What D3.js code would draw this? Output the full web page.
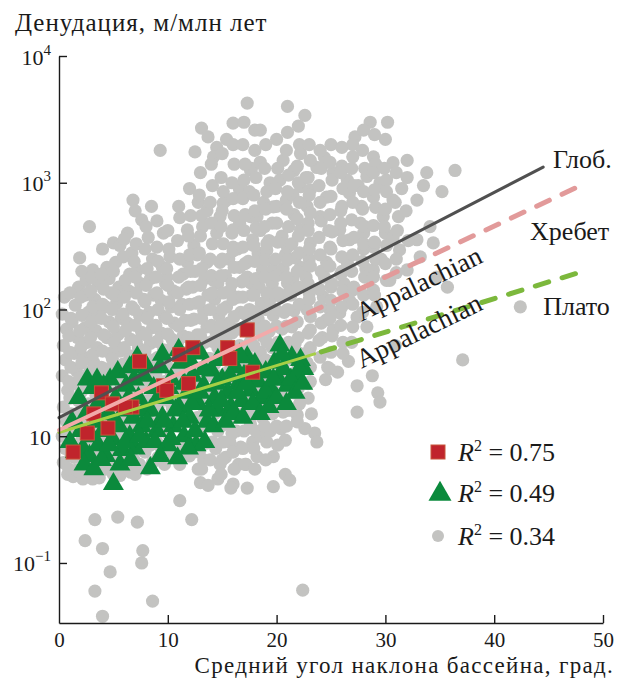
<!DOCTYPE html>
<html lang="ru">
<head>
    <meta charset="UTF-8">
    <title>Денудация и уклон бассейна</title>
    <script src="https://d3js.org/d3.v7.min.js"></script>
    <style>
        body { margin: 0; background: #fff; }
        .axis path, .axis line { stroke: #1a1a1a; stroke-width: 1.4; }
    </style>
</head>
<body>
<div id="chart"></div>
<script>
// global dataset: [mean basin slope (deg), denudation (m/Myr)]
const globalPoints = [
    [0.5,125],[0.3,92],[0.7,70],[0.4,52],[0.6,40],[0.3,30],[0.8,23],[0.4,17],[0.7,13],[0.3,10],[0.6,8],[0.4,6.2],[0.8,5],
    [1.5,108],[1.2,80],[1.7,60],[1.4,45],[1.6,33],[1.3,26],[1.8,19],[1.5,14],[1.2,11],[1.7,8.5],[1.4,6.8],[1.6,5.4],[1.9,255],[2.1,200],[1.8,150],[1.3,4.8],
    [2.8,450],[2.5,170],[2.4,130],[2.7,95],[2.4,72],[2.6,55],[2.3,42],[2.8,32],[2.5,24],[2.7,18],[2.3,13.5],[2.6,9.5],[2.4,7.2],[2.8,5.8],[2.2,4.6],[2.4,1.5],
    [3.1,205],[3.6,160],[3.3,120],[3.7,92],[3.4,68],[3.5,50],[3.2,38],[3.7,29],[3.4,21],[3.6,15],[3.3,11],[3.6,8],[3.3,6],[3.7,4.7],[3.3,2.2],[3.3,0.6],[4.0,1.3],[4.0,0.38],[3.1,4.6],
    [4.4,215],[4.6,175],[4.8,135],[4.3,105],[4.6,80],[4.4,60],[4.7,45],[4.5,34],[4.3,25],[4.7,19],[4.4,14],[4.6,10],[4.5,7.5],[4.3,5.5],[4.7,0.85],
    [5.0,335],[5.2,235],[5.6,320],[5.5,150],[5.3,112],[5.7,85],[5.4,63],[5.6,47],[5.3,35],[5.7,26],[5.4,20],[5.6,14],[5.3,10.5],[5.7,7.8],[5.4,5.8],[5.4,2.3],[5.6,4.9],
    [6.8,730],[6.3,400],[6.7,280],[6.5,190],[6.4,140],[6.7,105],[6.3,78],[6.6,58],[6.5,43],[6.3,32],[6.7,24],[6.5,18],[6.4,13],[6.7,9.5],[6.4,7],[6.6,5.2],
    [7.6,510],[7.2,205],[7.5,160],[7.8,120],[7.4,90],[7.6,66],[7.3,50],[7.7,37],[7.5,27],[7.3,20],[7.6,15],[7.4,11],[7.7,8],[7.4,6],[7.2,2.1],[7.6,1.0],[7.7,1.25],
    [8.5,650],[8.2,370],[8.6,250],[8.4,175],[8.7,130],[8.3,95],[8.6,72],[8.4,54],[8.7,40],[8.3,30],[8.6,22],[8.4,16],[8.7,12],[8.4,8.5],[8.6,6.2],[8.6,0.5],
    [9.3,1800],[9.6,400],[9.0,310],[9.5,215],[9.8,160],[9.4,118],[9.7,88],[9.4,65],[9.6,48],[9.3,36],[9.7,27],[9.5,20],[9.3,15],[9.6,11],[9.4,8],[9.7,6],
    [10.2,260],[9.9,180],[10.5,140],[10.3,105],[10.6,78],[10.4,58],[10.7,43],[10.3,32],[10.6,24],[10.4,17],[10.7,12.5],[10.3,9],[10.6,6.8],[11.1,3.1],
    [11.1,530],[11.8,425],[11.8,235],[11.4,190],[11.7,145],[11.3,110],[11.6,82],[11.4,62],[11.7,46],[11.3,34],[11.6,25],[11.4,18],[11.7,13],[11.4,9.5],[11.7,7],[12.2,2.2],
    [12.5,1750],[13.1,2700],[12.8,700],[12.4,320],[12.7,270],[12.5,200],[12.3,150],[12.6,112],[12.4,84],[12.7,63],[12.5,47],[12.3,35],[12.6,26],[12.4,19],[12.7,14],[12.5,10],[12.3,7.5],[12.8,5.5],
    [13.7,2300],[13.6,600],[13.2,450],[13.6,235],[13.4,175],[13.7,130],[13.3,98],[13.6,73],[13.4,55],[13.7,41],[13.3,30],[13.6,22],[13.4,16],[13.7,12],[13.5,8.8],[13.3,6.5],[13.0,4.3],[13.7,4.1],
    [14.5,1900],[14.2,1600],[14.8,540],[14.5,400],[14.2,170],[14.8,235],[14.6,162],[14.3,120],[14.7,90],[14.4,67],[14.6,50],[14.3,37],[14.7,28],[14.5,20],[14.3,15],[14.6,11],[14.4,8],[14.8,6],[14.6,4.6],
    [15.4,2200],[16.0,2950],[15.4,730],[15.1,690],[16.0,425],[16.0,310],[15.6,250],[15.3,185],[15.7,140],[15.4,105],[15.6,78],[15.3,58],[15.7,43],[15.5,32],[15.3,24],[15.6,17],[15.4,12.5],[15.7,9],[15.3,6.8],[16.0,4.2],
    [17.3,4250],[16.6,910],[16.6,880],[16.6,480],[16.6,215],[16.4,300],[16.8,165],[16.5,125],[16.7,95],[16.4,70],[16.6,52],[16.8,39],[16.4,29],[16.7,21],[16.5,15],[16.3,11],[16.7,8.2],[16.5,6],[15.8,3.9],
    [18.0,2600],[17.7,1300],[17.6,1260],[17.5,850],[17.8,355],[17.6,540],[17.3,180],[17.6,162],[17.4,240],[17.7,130],[17.5,100],[17.3,75],[17.6,56],[17.4,42],[17.7,31],[17.5,23],[17.3,17],[17.6,12.5],[17.8,9],[17.2,6],[17.3,3.9],
    [18.5,2600],[18.5,1450],[18.2,540],[18.8,700],[18.5,420],[18.3,280],[18.7,205],[18.4,150],[18.6,112],[18.3,84],[18.7,62],[18.5,46],[18.3,34],[18.6,25],[18.4,19],[18.7,14],[18.5,10],[18.2,6.9],
    [19.7,645],[19.1,295],[19.7,205],[19.4,1000],[19.6,480],[19.3,350],[19.6,160],[19.4,120],[19.7,90],[19.3,67],[19.6,50],[19.4,37],[19.7,27],[19.3,20],[19.6,15],[19.4,11],[19.7,6.9],[19.7,4.0],
    [21.0,4000],[20.6,1500],[20.3,1050],[20.9,730],[20.0,480],[20.5,380],[20.8,270],[21.0,310],[21.0,162],[20.6,210],[20.4,125],[20.7,95],[20.5,70],[20.3,52],[20.7,38],[20.5,28],[20.3,21],[20.6,15.5],[20.4,11.5],[20.8,9.3],[20.8,5],
    [22.6,3400],[22.2,1700],[21.6,1250],[22.2,930],[21.5,800],[22.2,425],[21.6,560],[21.4,330],[22.2,215],[21.7,255],[21.5,175],[21.3,130],[21.6,98],[21.4,73],[21.7,54],[21.5,40],[21.3,30],[21.9,14.7],[21.6,22],[21.4,16],[22.4,0.61],[21.2,4.5],
    [23.1,880],[23.7,1320],[23.1,335],[22.8,650],[23.0,250],[22.7,180],[23.0,135],[22.8,100],[23.1,69],[23.1,50],[22.8,38],[23.1,27],[23.5,10.6],[23.7,9],[22.9,20],[23.2,15],[22.7,1100],[22.9,480],[22.6,11.5],
    [24.4,1580],[25.2,1200],[24.6,770],[24.0,540],[24.9,310],[24.6,235],[24.3,125],[24.6,83],[24.7,35],[24.4,180],[24.8,420],[24.2,60],[25.0,150],[25.2,69],[24.5,28],[24.9,100],
    [26.5,1050],[25.8,425],[26.7,830],[26.7,355],[26.5,235],[25.8,94],[26.6,39],[25.6,32],[26.7,118],[26.1,45],[26.0,200],[25.9,600],[26.2,160],[27.0,1600],[27.2,2300],[26.0,1350],
    [28.3,1120],[27.7,480],[27.4,87],[27.4,25],[27.4,15.5],[27.0,142],[27.0,73],[28.0,300],[27.8,650],[28.2,210],[27.5,950],[28.0,400],
    [28.9,770],[28.9,310],[28.9,205],[28.9,142],[28.6,3000],[29.8,540],[29.2,105],[28.8,30],[29.3,22],[29.5,18.6],[28.3,73],[28.9,1600],[29.5,1000],[30.2,3000],[30.1,1050],[30.1,170],[30.0,400],[29.6,250],
    [30.7,1440],[30.7,730],[30.7,370],[31.0,195],[31.2,540],[32.0,1500],[31.3,295],[32.0,205],[30.4,170],[31.5,900],[30.9,52],
    [33.8,1200],[32.9,730],[32.9,355],[33.2,260],[34.1,450],[34.4,335],[35.2,850],[34.7,180],[35.7,150],[36.4,1250],[37.1,40],[33.5,950],[42.4,105],
    // points packed between the columns above
    [1.0,135],[1.1,85],[0.9,62],[1.0,46],[1.1,35],[0.9,27],[1.0,20],[1.1,15],[0.9,11.5],[1.0,9],[1.1,7],[0.9,5.5],
    [2.0,125],[2.1,90],[1.9,68],[2.0,50],[2.1,38],[1.9,29],[2.0,22],[2.1,16],[1.9,12],[2.0,9],[2.1,7],[1.9,5.2],
    [3.0,180],[2.9,140],[3.1,105],[3.0,80],[2.9,60],[3.1,44],[3.0,33],[2.9,25],[3.1,18],[3.0,13],[2.9,9.5],[3.1,7],[3.0,5.3],
    [4.0,300],[3.9,190],[4.1,145],[4.0,110],[3.9,85],[4.1,63],[4.0,47],[3.9,35],[4.1,26],[4.0,19],[3.9,14],[4.1,10],[4.0,7.5],[3.9,5.5],
    [5.0,200],[5.1,130],[4.9,100],[5.0,73],[5.1,55],[4.9,41],[5.0,30],[5.1,22],[4.9,16],[5.0,12],[5.1,9],[4.9,6.5],[5.0,5],
    [6.0,360],[5.9,260],[6.1,170],[6.0,125],[5.9,92],[6.1,68],[6.0,50],[5.9,37],[6.1,28],[6.0,21],[5.9,15],[6.1,11],[6.0,8],[5.9,6],
    [7.0,600],[7.1,330],[6.9,240],[7.0,180],[7.1,135],[6.9,100],[7.0,75],[7.1,56],[6.9,42],[7.0,31],[7.1,23],[6.9,17],[7.0,12.5],[7.1,9],[6.9,6.5],[7.0,5],
    [8.0,450],[7.9,300],[8.1,210],[8.0,155],[7.9,115],[8.1,85],[8.0,63],[7.9,47],[8.1,35],[8.0,26],[7.9,19],[8.1,14],[8.0,10],[7.9,7.5],[8.1,5.5],
    [9.0,500],[9.1,240],[8.9,180],[9.0,135],[9.1,100],[8.9,75],[9.0,56],[9.1,42],[8.9,31],[9.0,23],[9.1,17],[8.9,12.5],[9.0,9],[9.1,6.8],
    [10.0,420],[10.1,300],[9.9,210],[10.0,155],[10.1,115],[9.9,85],[10.0,64],[10.1,48],[9.9,36],[10.0,26],[10.1,19],[9.9,14],[10.0,10.5],[10.1,7.8],
    [11.0,650],[10.9,350],[11.1,250],[11.0,180],[10.9,135],[11.1,100],[11.0,74],[10.9,55],[11.1,41],[11.0,30],[10.9,22],[11.1,16],[11.0,12],[10.9,8.5],[11.1,6],
    [12.0,900],[12.1,550],[11.9,380],[12.0,270],[12.1,200],[11.9,150],[12.0,110],[12.1,82],[11.9,60],[12.0,45],[12.1,33],[11.9,24],[12.0,18],[12.1,13],[11.9,9.5],[12.0,7],
    [13.0,1200],[12.9,800],[13.1,550],[13.0,380],[12.9,280],[13.1,210],[13.0,155],[12.9,115],[13.1,85],[13.0,63],[12.9,47],[13.1,35],[13.0,26],[12.9,19],[13.1,14],[13.0,10.5],[12.9,7.5],[13.1,5.5],
    [14.0,1400],[14.1,950],[13.9,700],[14.0,480],[14.1,330],[13.9,250],[14.0,185],[14.1,135],[13.9,100],[14.0,75],[14.1,56],[13.9,41],[14.0,30],[14.1,22],[13.9,16],[14.0,12],[14.1,9],[13.9,6.5],
    [15.0,1700],[14.9,1100],[15.1,850],[15.0,600],[14.9,450],[15.1,330],[15.0,250],[14.9,185],[15.1,135],[15.0,100],[14.9,75],[15.1,56],[15.0,41],[14.9,30],[15.1,22],[15.0,16],[14.9,12],[15.1,9],[15.0,6.5],[14.9,5],
    [16.0,2000],[16.1,1400],[15.9,1000],[16.0,750],[16.1,550],[15.9,400],[16.0,290],[16.1,215],[15.9,160],[16.0,120],[16.1,88],[15.9,65],[16.0,48],[16.1,36],[15.9,27],[16.0,20],[16.1,14.5],[15.9,10.5],[16.0,7.5],[16.1,5.5],
    [17.0,3000],[16.9,2000],[17.1,1400],[17.0,1050],[16.9,750],[17.1,560],[17.0,420],[16.9,310],[17.1,230],[17.0,170],[16.9,125],[17.1,92],[17.0,68],[16.9,50],[17.1,37],[17.0,27],[16.9,20],[17.1,15],[17.0,11],[16.9,8],[17.1,6],
    [18.0,1800],[18.1,1100],[17.9,800],[18.0,600],[18.1,440],[17.9,320],[18.0,240],[18.1,175],[17.9,130],[18.0,96],[18.1,70],[17.9,52],[18.0,38],[18.1,28],[17.9,21],[18.0,15],[18.1,11],[17.9,8],[18.0,5.5],
    [19.0,2000],[18.9,1300],[19.1,850],[19.0,620],[18.9,450],[19.1,330],[19.0,245],[18.9,180],[19.1,135],[19.0,100],[18.9,74],[19.1,55],[19.0,40],[18.9,30],[19.1,22],[19.0,16],[18.9,12],[19.1,9],[19.0,6.5],
    [20.0,2200],[20.1,1300],[19.9,900],[20.0,650],[20.1,340],[19.9,250],[20.0,185],[20.1,135],[19.9,100],[20.0,74],[20.1,55],[19.9,40],[20.0,30],[20.1,22],[19.9,16],[20.0,12],[20.1,8.5],
    [21.0,2500],[20.9,1800],[21.1,1150],[21.0,850],[20.9,620],[21.1,450],[21.0,245],[20.9,180],[21.1,135],[21.0,100],[20.9,74],[21.1,55],[21.0,41],[20.9,30],[21.1,22],[21.0,16],[20.9,12],
    [22.0,2800],[22.1,2000],[21.9,1350],[22.0,1000],[22.1,700],[21.9,520],[22.0,380],[22.1,280],[21.9,200],[22.0,150],[22.1,110],[21.9,80],[22.0,60],[22.1,45],[21.9,33],[22.0,24],[22.1,18],[21.9,13],
    [23.0,2000],[23.1,1500],[22.9,1100],[23.0,800],[23.1,580],[22.9,420],[23.0,300],[23.1,220],[22.9,160],[23.0,120],[23.1,88],[22.9,65],[23.0,48],[23.1,35],[22.9,26],
    [24.0,1800],[24.1,1300],[23.9,950],[24.0,700],[24.1,500],[23.9,370],[24.0,270],[24.1,200],[23.9,145],[24.0,105],[24.1,78],[23.9,57],[24.0,42],
    [25.0,2000],[24.9,1450],[25.1,1050],[25.0,780],[24.9,560],[25.1,410],[25.0,300],[24.9,220],[25.1,160],[25.0,118],[24.9,85],[25.1,62],[25.0,46],[24.9,34],
    [26.0,1900],[25.9,1200],[26.1,900],[26.0,650],[25.9,480],[26.1,350],[26.0,260],[25.9,190],[26.1,140],[26.0,105],[25.9,75],[26.1,55],
    [27.0,2000],[26.9,1300],[27.1,950],[27.0,700],[26.9,510],[27.1,370],[27.0,270],[26.9,200],[27.1,150],[27.0,110],[26.9,55],
    [28.0,2600],[27.9,1800],[28.1,1300],[28.0,850],[27.9,620],[28.1,450],[28.0,330],[27.9,240],[28.1,180],[28.0,130],[27.9,95],
    [29.0,2400],[29.1,1400],[28.9,1200],[29.0,880],[29.1,640],[28.9,460],[29.0,340],[29.1,250],[28.9,180],[29.0,130],
    [30.0,2200],[29.9,1300],[30.1,850],[30.0,620],[29.9,450],[30.1,320],[30.0,230],
    [31.0,1200],[30.9,700],[31.1,420],[31.0,250],
    [32.0,1100],[31.9,600],[32.1,350]
];

// Appalachian plateau basins
const plateauPoints = [
    [1.0,9],[1.5,7.5],[2.0,11],[2.2,8],[2.5,15],[2.8,7],[3.0,10],[3.1,24],[3.4,13],[3.6,8.5],[3.8,18],[4.0,11],[4.3,7],[4.5,15],
    [4.7,28],[4.9,9.5],[5.0,4.2],[5.2,20],[5.5,12],[5.8,7.8],[6.0,16],[6.2,25],[6.5,10],[6.8,14],[7.0,8],[7.2,42],[7.3,20],
    [7.6,12],[7.8,30],[8.0,9],[8.4,5.6],[8.4,16],[8.7,24],[9.0,11],[9.3,35],[9.5,14],[9.8,20],[10.0,8.5],[10.3,28],[10.5,12],
    [10.9,6.7],[11.0,17],[11.2,38],[11.5,10],[11.8,22],[12.0,14],[12.3,30],[12.6,8.5],[12.8,18],[13.0,45],[13.3,25],[13.6,13],
    [14.0,33],[14.3,20],[14.6,16],[15.0,28],[15.2,40],[15.5,22],[15.8,17],[16.2,35],[16.5,26],[16.8,19],[17.0,30],[17.3,42],
    [17.6,23],[18.0,37],[18.3,27],[18.6,20],[19.0,32],[19.4,24],[19.8,38],[20.3,52],[20.2,28],[20.6,34],[21.0,25],[21.4,42],
    [21.8,30],[22.2,40],[22.5,34],
    [1.2,13],[1.8,20],[2.3,6],[2.6,28],[3.2,5.5],[3.4,17],[3.9,6.5],[4.1,25],[4.6,8.5],[5.0,13],[5.4,32],[5.6,6],[6.1,9],
    [6.4,20],[6.6,6.5],[6.9,28],[7.4,10],[7.8,16],[8.1,13],[8.8,9],[9.1,20],[9.3,7],[9.7,13],[10.1,24],[10.3,9.5],[10.7,16],
    [11.4,13],[11.5,26],[11.9,8],[12.2,18],[12.5,11],[13.0,22],[13.4,9],[13.8,16],[14.2,12],[14.5,26],[14.9,19],[15.3,13],
    [15.7,30],[16.0,15],[16.4,22],[16.9,14],[17.2,26],[17.8,18],[18.2,32],[18.5,15],[19.0,22],[19.3,17],[19.7,28],[20.0,20],
    [20.5,44],[20.9,18],[21.3,28],[21.7,22],[22.1,34],[22.4,26],[13.3,34],[11.0,48],[12.0,40],[14.6,40],[16.6,44],[9.5,44],
    [8.0,36],[6.5,35],[3.5,28]
];

// Appalachian ridge basins
const ridgePoints = [
    [1.3,7.5],[2.6,10.6],[4.5,11.6],[3.9,22],[3.2,15],[4.9,18],[6.7,17],[7.4,39],[9.6,25],
    [11.1,44],[12.3,50],[11.9,26],[15.5,50],[15.7,41],[17.3,69],[17.8,32],[6.1,17],[9.9,23]
];

// regression lines (start, end, where the solid part ends)
const fitNames = ["Глоб.", "Хребет", "Плато"];
const fitStart = [[0, 14], [0, 11.2], [0, 10.7]];
const fitEnd = [[44.5, 1330], [48, 955], [48.5, 204]];
const fitSolidTo = [44.5, 20, 23.5];
const fitLabelAt = [[45.4, 1300], [43.3, 353], [44.5, 91]];
const appalachianAt = [[27.8, 80], [27.8, 34]];

// axis ticks
const xTicks = [0, 10, 20, 30, 40, 50];
const yTicks = [1, 10, 100, 1000, 10000];
const yTickExp = ["\u22121", "", "2", "3", "4"];

const legendR2 = ["0.75", "0.49", "0.34"];

const font = "'Liberation Serif', 'Times New Roman', 'DejaVu Serif', serif";

const margin = {top: 56, right: 15, bottom: 55, left: 59},
    width = 618 - margin.left - margin.right,
    height = 678 - margin.top - margin.bottom;

const svg = d3.select("#chart")
    .append("svg")
    .attr("width", 618)
    .attr("height", 678)
    .style("font-family", font);

const g = svg.append("g")
    .attr("transform", "translate(" + margin.left + "," + margin.top + ")");

const x = d3.scaleLinear().domain([0, 50]).range([0, width]);
const y = d3.scaleLog().domain([0.336, 10000]).range([height, 0]);

// clip the marks to the plot area (points may sit a little past the axis)
svg.append("clipPath").attr("id", "plot")
    .append("rect").attr("x", -8).attr("y", -8).attr("width", width + 16).attr("height", height + 8);

const marks = g.append("g").attr("clip-path", "url(#plot)");

// gray global points
marks.append("g").selectAll("circle")
    .data(globalPoints)
    .join("circle")
    .attr("cx", d => x(d[0]))
    .attr("cy", d => y(d[1]))
    .attr("r", 6.6)
    .attr("fill", "#c3c3c1");

// green triangles
const tri = d3.symbol().type(d3.symbolTriangle).size(190);
marks.append("g").selectAll("path")
    .data(plateauPoints)
    .join("path")
    .attr("d", tri)
    .attr("transform", d => "translate(" + x(d[0]) + "," + y(d[1]) + ")")
    .attr("fill", "#0b8a3c");

// red squares
marks.append("g").selectAll("rect")
    .data(ridgePoints)
    .join("rect")
    .attr("x", d => x(d[0]) - 7)
    .attr("y", d => y(d[1]) - 7)
    .attr("width", 14)
    .attr("height", 14)
    .attr("fill", "#c0242c")
    .attr("stroke", "#c8553a")
    .attr("stroke-width", 1);

// value on a fitted line (straight in log space)
function fitValue(i, deg) {
    const t = (deg - fitStart[i][0]) / (fitEnd[i][0] - fitStart[i][0]);
    const l0 = Math.log10(fitStart[i][1]), l1 = Math.log10(fitEnd[i][1]);
    return Math.pow(10, l0 + t * (l1 - l0));
}

const solidColor = ["#505050", "#f2aaaa", "#a6cf45"];
const dashColor = ["#505050", "#e29a9a", "#7cb83c"];
const solidWidth = [3, 4, 3];

// draw order: plateau, ridge, global
[2, 1, 0].forEach(function(i) {
    const mid = fitSolidTo[i];
    marks.append("line")
        .attr("x1", x(fitStart[i][0])).attr("y1", y(fitStart[i][1]))
        .attr("x2", x(mid)).attr("y2", y(fitValue(i, mid)))
        .attr("stroke", solidColor[i])
        .attr("stroke-width", solidWidth[i])
        .attr("stroke-linecap", "round");
    if (mid < fitEnd[i][0]) {
        const gap = 0.6;
        marks.append("line")
            .attr("x1", x(mid + gap)).attr("y1", y(fitValue(i, mid + gap)))
            .attr("x2", x(fitEnd[i][0])).attr("y2", y(fitEnd[i][1]))
            .attr("stroke", dashColor[i])
            .attr("stroke-width", 5)
            .attr("stroke-linecap", "round")
            .attr("stroke-dasharray", "14 14");
    }
});

// text helper: font set inline on every label
function label(sel, size) {
    return sel.style("font-family", font).style("fill", "#1a1a1a").attr("font-size", size);
}

// line labels
fitNames.forEach(function(name, i) {
    label(g.append("text"), 26)
        .attr("x", x(fitLabelAt[i][0]))
        .attr("y", y(fitLabelAt[i][1]))
        .text(name);
});

[-26, -26].forEach(function(angle, i) {
    const px = x(appalachianAt[i][0]), py = y(appalachianAt[i][1]);
    label(g.append("text"), 27)
        .attr("transform", "translate(" + px + "," + py + ") rotate(" + angle + ")")
        .text("Appalachian");
});

// axes
const xAxis = g.append("g")
    .attr("class", "axis")
    .attr("transform", "translate(0," + height + ")")
    .call(d3.axisBottom(x).tickValues(xTicks).tickSize(-8).tickSizeOuter(0).tickFormat(""));
xAxis.selectAll(".tick").filter(d => d === 0).select("line").remove();

label(xAxis.selectAll(".tick").append("text"), 21)
    .attr("y", 24)
    .attr("text-anchor", "middle")
    .text(d => d);

const yAxis = g.append("g")
    .attr("class", "axis")
    .call(d3.axisLeft(y).tickValues(yTicks).tickSize(-8).tickSizeOuter(0).tickFormat(""));

const yLabels = label(yAxis.selectAll(".tick").append("text"), 22)
    .attr("x", -8)
    .attr("y", 8)
    .attr("text-anchor", "end");
yLabels.append("tspan").text("10");
yLabels.append("tspan")
    .attr("dy", -10)
    .attr("font-size", 15)
    .text((d, i) => yTickExp[i]);

// axis titles
label(svg.append("text"), 25)
    .attr("x", 15)
    .attr("y", 31)
    .style("letter-spacing", "1px")
    .text("Денудация, м/млн лет");

label(svg.append("text"), 23)
    .attr("x", 614)
    .attr("y", 673)
    .attr("text-anchor", "end")
    .style("letter-spacing", "1.3px")
    .text("Средний угол наклона бассейна, град.");

// legend
const legend = svg.append("g").attr("transform", "translate(438,452)");
const legendRows = legend.selectAll("g")
    .data(legendR2)
    .join("g")
    .attr("transform", (d, i) => "translate(0," + [0, 41, 84][i] + ")");

legendRows.each(function(d, i) {
    const row = d3.select(this);
    if (i === 0) {
        row.append("rect").attr("x", -7).attr("y", -7).attr("width", 14).attr("height", 14)
            .attr("fill", "#c0242c").attr("stroke", "#c8553a");
    } else if (i === 1) {
        row.append("path").attr("d", d3.symbol().type(d3.symbolTriangle).size(230))
            .attr("transform", "translate(2,1)")
            .attr("fill", "#0b8a3c");
    } else {
        row.append("circle").attr("r", 6).attr("fill", "#c3c3c1");
    }
    const t = label(row.append("text"), 26).attr("x", 20).attr("y", 9);
    t.append("tspan").attr("font-style", "italic").text("R");
    t.append("tspan").attr("dy", -10).attr("font-size", 16).text("2");
    t.append("tspan").attr("dy", 10).text(" = " + d);
});
</script>
</body>
</html>
